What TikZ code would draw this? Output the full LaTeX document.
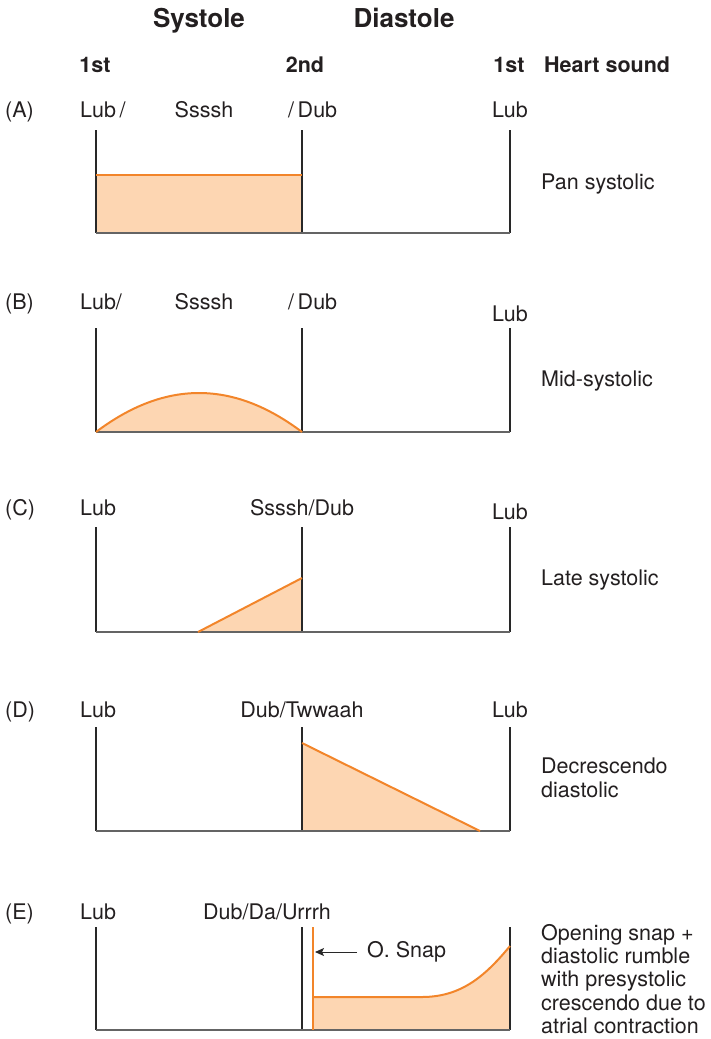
\documentclass[tikz,border=0pt]{standalone}
\usepackage{fontspec}
\setmainfont{TeX Gyre Heros}
\usetikzlibrary{arrows.meta}
\definecolor{murmur}{RGB}{242,133,42}
\definecolor{murfill}{RGB}{253,214,178}
\definecolor{axisgray}{RGB}{100,100,100}
\definecolor{linecol}{RGB}{40,40,40}
\definecolor{textcol}{RGB}{35,31,32}
\begin{document}
\begin{tikzpicture}[x=1pt,y=-1pt,
  txt/.style={inner sep=0pt, text=textcol, font=\fontsize{21.5}{24}\selectfont},
  head/.style={inner sep=0pt, text=textcol, font=\fontsize{21.5}{24}\selectfont\bfseries},
  ttl/.style={inner sep=0pt, text=textcol, font=\fontsize{26}{30}\selectfont\bfseries},
  vline/.style={draw=linecol, line width=1.1pt},
  baseln/.style={draw=axisgray, line width=1.6pt},
  mur/.style={draw=murmur, line width=2pt, line join=round},
  murf/.style={fill=murfill}]
\useasboundingbox (0,0) rectangle (710,1039);

% titles and header
\node[ttl, anchor=base] (sys) at (199,27) {Systole};
\node[ttl, anchor=base] (dia) at (404,27) {Diastole};
\node[head, anchor=base] (h1) at (95,72.5) {1st};
\node[head, anchor=base] (h2) at (305,72.5) {2nd};
\node[head, anchor=base] (h3) at (509,72.5) {1st};
\node[head, anchor=base west] (hs) at (544,72.5) {Heart sound};

% ---------- (A) ----------
\node[txt, anchor=base west] (la) at (5,117.5) {(A)};
\node[txt, anchor=base west] (a1) at (80,117.5) {Lub\,/};
\node[txt, anchor=base] (a2) at (204,117.5) {Ssssh};
\node[txt, anchor=base west] (a3) at (288,117.5) {/\,Dub};
\node[txt, anchor=base] (a4) at (510,117.5) {Lub};
\node[txt, anchor=base west] (ra) at (541,189.5) {Pan systolic};
\fill[murf] (96,175) rectangle (302,233);
\draw[vline] (96,130) -- (96,233) (302,130) -- (302,233) (510,130) -- (510,233);
\draw[baseln] (96,233) -- (510,233);
\draw[mur] (96,175) -- (302,175);

% ---------- (B) ----------
\node[txt, anchor=base west] (lb) at (5,309.5) {(B)};
\node[txt, anchor=base west] (b1) at (80,309.5) {Lub/};
\node[txt, anchor=base] (b2) at (204,309.5) {Ssssh};
\node[txt, anchor=base west] (b3) at (288,309.5) {/\,Dub};
\node[txt, anchor=base] (b4) at (510,321.5) {Lub};
\node[txt, anchor=base west] (rb) at (541,386.5) {Mid-systolic};
\fill[murf] (96,432) .. controls (165,380) and (233,380) .. (302,432) -- cycle;
\draw[vline] (96,328) -- (96,432) (302,328) -- (302,432) (510,328) -- (510,432);
\draw[baseln] (96,432) -- (510,432);
\draw[mur] (96,432) .. controls (165,380) and (233,380) .. (302,432);

% ---------- (C) ----------
\node[txt, anchor=base west] (lc) at (5,515.5) {(C)};
\node[txt, anchor=base west] (c1) at (80,515.5) {Lub};
\node[txt, anchor=base] (c2) at (302,515.5) {Ssssh/Dub};
\node[txt, anchor=base] (c4) at (510,519.5) {Lub};
\node[txt, anchor=base west] (rc) at (541,585.5) {Late systolic};
\fill[murf] (198,632) -- (302,578) -- (302,632) -- cycle;
\draw[vline] (96,527) -- (96,632) (302,527) -- (302,632) (510,527) -- (510,632);
\draw[baseln] (96,632) -- (510,632);
\draw[mur] (198,632) -- (302,578);

% ---------- (D) ----------
\node[txt, anchor=base west] (ld) at (5,717.5) {(D)};
\node[txt, anchor=base west] (d1) at (80,717.5) {Lub};
\node[txt, anchor=base] (d2) at (302,717.5) {Dub/Twwaah};
\node[txt, anchor=base] (d4) at (510,717.5) {Lub};
\node[txt, anchor=north west, align=left] (rd) at (541,758) {Decrescendo\\diastolic};
\fill[murf] (302,743) -- (480,831) -- (302,831) -- cycle;
\draw[vline] (96,727) -- (96,831) (302,727) -- (302,831) (510,727) -- (510,831);
\draw[baseln] (96,831) -- (510,831);
\draw[mur] (302,743) -- (480,831);

% ---------- (E) ----------
\node[txt, anchor=base west] (le) at (5,919.5) {(E)};
\node[txt, anchor=base west] (e1) at (80,919.5) {Lub};
\node[txt, anchor=base] (e2) at (267,919.5) {Dub/Da/Urrrh};
\node[txt, anchor=north west, align=left, font=\fontsize{21.5}{23.3}\selectfont] (re) at (541,924) {Opening snap +\\diastolic rumble\\with presystolic\\crescendo due to\\atrial contraction};
\fill[murf] (313,1030) -- (313,997) -- (422,997) .. controls (462,997) and (486,975) .. (510,946) -- (510,1030) -- cycle;
\draw[vline] (96,927) -- (96,1030) (302,927) -- (302,1030) (510,927) -- (510,1030);
\draw[baseln] (96,1030) -- (510,1030);
\draw[mur] (313,927) -- (313,1030);
\draw[mur] (313,997) -- (422,997) .. controls (462,997) and (486,975) .. (510,946);
\node[txt, anchor=west] (osnap) at (367,952) {O. Snap};
\coordinate (snaptip) at (315,952);
\draw[draw=linecol, line width=1pt, shorten <=10pt, -{Stealth[length=9pt,width=8pt,inset=2pt]}] (osnap.west) -- (snaptip);
\end{tikzpicture}
\end{document}
